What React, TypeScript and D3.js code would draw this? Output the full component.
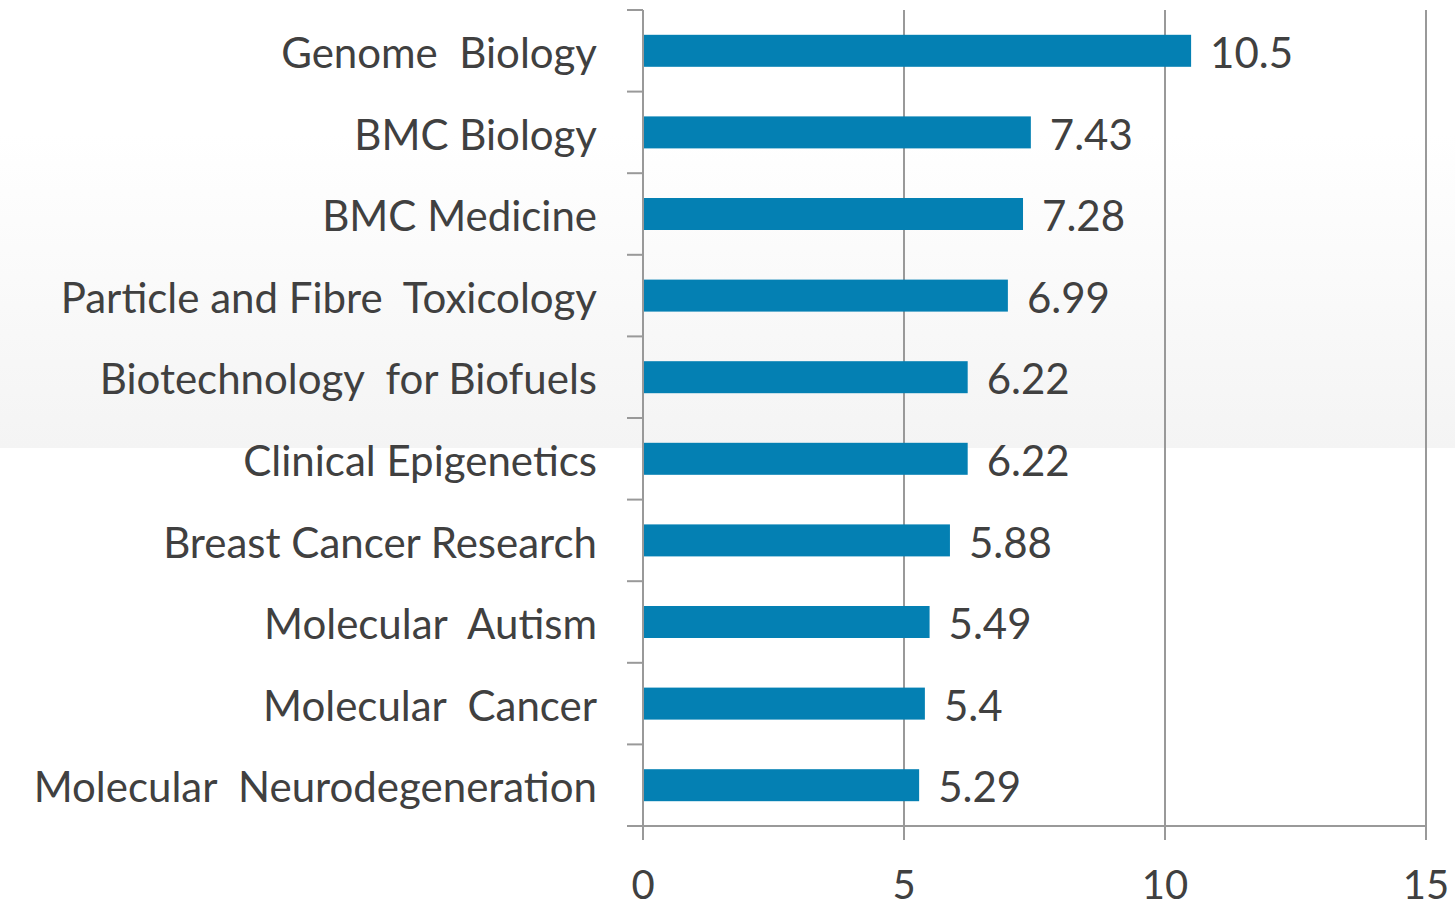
import React from "react";
import * as d3 from "d3";

const categories = [
  "Genome  Biology",
  "BMC Biology",
  "BMC Medicine",
  "Particle and Fibre  Toxicology",
  "Biotechnology  for Biofuels",
  "Clinical Epigenetics",
  "Breast Cancer Research",
  "Molecular  Autism",
  "Molecular  Cancer",
  "Molecular  Neurodegeneration",
];
const values = [10.5, 7.43, 7.28, 6.99, 6.22, 6.22, 5.88, 5.49, 5.4, 5.29];
const valueLabels = ["10.5", "7.43", "7.28", "6.99", "6.22", "6.22", "5.88", "5.49", "5.4", "5.29"];
const xTicks = [0, 5, 10, 15];

const W = 1455;
const H = 904;
const left = 643;
const right = 1426;
const top = 10;
const bottom = 826;
const font = "Lato, 'Open Sans', sans-serif";
const textColor = "#404040";
const gridColor = "#999999";

export default function App() {
  const x = d3.scaleLinear().domain([0, 15]).range([left, right]);
  const y = d3.scaleBand<string>().domain(categories).range([top, bottom]).paddingInner(0).paddingOuter(0);
  const bw = y.bandwidth();
  const barH = 32;
  const boundaries = d3.range(categories.length + 1).map((i) => top + i * bw);

  return (
    <svg width={W} height={H} style={{ position: "absolute", left: 0, top: 0, display: "block" }}>
      <defs>
        <linearGradient id="bg" x1="0" y1="0" x2="0" y2="1">
          <stop offset="0" stopColor="#ffffff" />
          <stop offset="0.3" stopColor="#ffffff" />
          <stop offset="1" stopColor="#f4f4f4" />
        </linearGradient>
      </defs>
      <rect x={0} y={0} width={W} height={H} fill="#ffffff" />
      <rect x={0} y={0} width={W} height={448} fill="url(#bg)" />
      {xTicks.filter((t) => t > 0).map((t) => (
        <line key={"g" + t} x1={x(t)} x2={x(t)} y1={top} y2={840} stroke={gridColor} strokeWidth={2} />
      ))}
      {boundaries.map((b, i) => (
        <line key={"t" + i} x1={627} x2={left} y1={b} y2={b} stroke={gridColor} strokeWidth={2} />
      ))}
      <line x1={left} x2={left} y1={top} y2={840} stroke={gridColor} strokeWidth={2} />
      <line x1={627} x2={right} y1={bottom} y2={bottom} stroke={gridColor} strokeWidth={2} />
      {categories.map((c, i) => {
        const cy = (y(c) as number) + bw / 2;
        return (
          <g key={c}>
            <rect x={x(0) + 1} y={cy - barH / 2} width={x(values[i]) - x(0) - 1} height={barH} fill="#0480b3" />
            <text x={x(values[i]) + 19} y={cy + 2} dy="0.36em" fontSize={42} fontFamily={font} fill={textColor}>
              {valueLabels[i]}
            </text>
            <text x={597} y={cy + 2} dy="0.36em" textAnchor="end" fontSize={42} fontFamily={font} fill={textColor} style={{ whiteSpace: "pre" }}>
              {c}
            </text>
          </g>
        );
      })}
      {xTicks.map((t) => (
        <text key={"l" + t} x={x(t)} y={885} dy="0.36em" textAnchor="middle" fontSize={40} fontFamily={font} fill={textColor}>
          {t}
        </text>
      ))}
    </svg>
  );
}
